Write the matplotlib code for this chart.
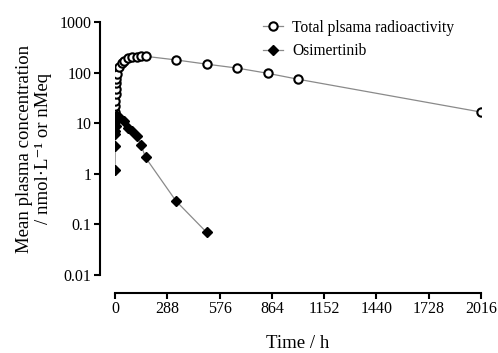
import numpy as np
import matplotlib.pyplot as plt
from matplotlib.ticker import FixedLocator, FixedFormatter, NullLocator

plt.rcParams['font.family'] = ['Liberation Serif', 'DejaVu Serif']

# time points (h) and concentrations
t_total = [0.5, 1, 1.5, 2, 3, 4, 6, 8, 12, 24, 36, 48, 72, 96, 120, 144, 168,
           336, 504, 672, 840, 1008, 2016]
c_total = [13, 17, 22, 28, 38, 48, 62, 75, 95, 130, 155, 170, 190, 200, 208, 210, 210,
           178, 147, 123, 97, 74, 16.6]

t_osi = [0.5, 1, 1.5, 2, 3, 4, 6, 8, 12, 24, 48, 72, 96, 120, 144, 168, 336, 504]
c_osi = [1.2, 3.5, 6, 7, 9, 11, 13, 14, 14, 13, 11, 8, 7, 5.6, 3.7, 2.1, 0.29, 0.07]

x_ticks = [0, 288, 576, 864, 1152, 1440, 1728, 2016]
y_ticks = [0.01, 0.1, 1, 10, 100, 1000]
y_tick_labels = ['0.01', '0.1', '1', '10', '100', '1000']

fig = plt.figure(figsize=(4.98, 3.53), dpi=100)
ax = fig.add_axes([115 / 498, 1 - 275 / 353, (481 - 115) / 498, (275 - 22) / 353])

ax.plot(t_total, c_total, color='#8a8a8a', lw=0.9, marker='o', ms=6,
        mfc='white', mec='black', mew=1.5, label='Total plsama radioactivity', zorder=3)
ax.plot(t_osi, c_osi, color='#8a8a8a', lw=0.9, marker='D', ms=5.2,
        mfc='black', mec='black', label='Osimertinib', zorder=3)

ax.set_yscale('log')
ax.set_xlim(0, 2016)
ax.set_ylim(0.01, 1000)
ax.yaxis.set_major_locator(FixedLocator(y_ticks))
ax.yaxis.set_major_formatter(FixedFormatter(y_tick_labels))
ax.yaxis.set_minor_locator(NullLocator())
ax.set_xticks(x_ticks)

for s in ['top', 'right']:
    ax.spines[s].set_visible(False)
ax.spines['left'].set_position(('outward', 11))
ax.spines['bottom'].set_position(('outward', 13))
for s in ['left', 'bottom']:
    ax.spines[s].set_linewidth(1.5)
ax.tick_params(width=1.5, length=4, labelsize=11.5, pad=2)

ax.set_xlabel('Time / h', fontsize=13.5, labelpad=13)
ax.set_ylabel('Mean plasma concentration\n/ nmol·L⁻¹ or nMeq', fontsize=13.5,
              labelpad=5, linespacing=1.15)

ax.legend(loc='upper left', bbox_to_anchor=(0.515, 0.962), bbox_transform=fig.transFigure,
          frameon=False, fontsize=11.2, handlelength=1.3, handletextpad=0.6,
          labelspacing=0.5, borderaxespad=0)

fig.savefig('out.png', dpi=100)
